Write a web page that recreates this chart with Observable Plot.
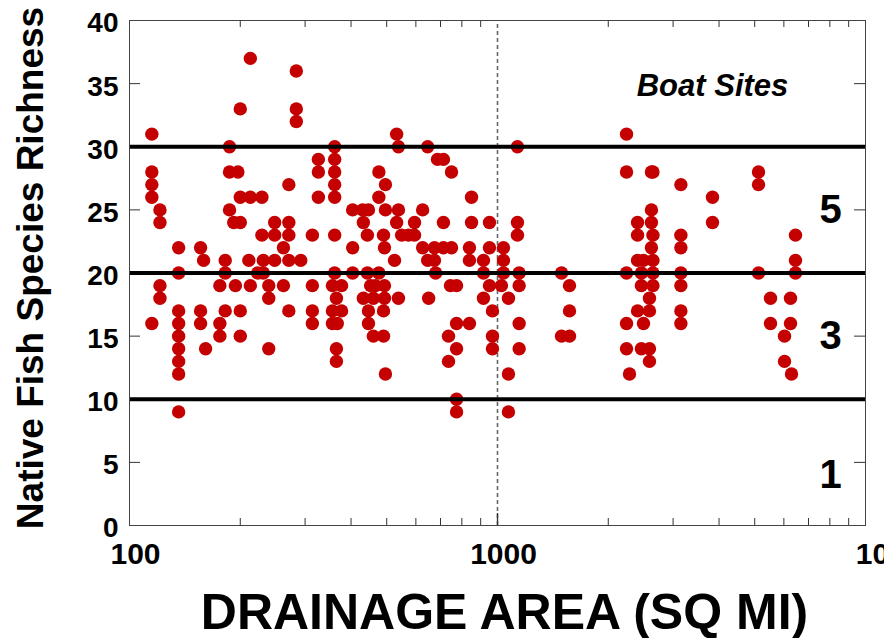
<!DOCTYPE html>
<html><head><meta charset="utf-8">
<script src="https://cdn.jsdelivr.net/npm/d3@7"></script>
<script src="https://cdn.jsdelivr.net/npm/@observablehq/plot@0.6"></script>
<style>html,body{margin:0;padding:0;background:#fff;overflow:hidden}</style>
</head><body><div id="chart"></div>
<script>
// Drainage area (sq mi) of each column of sites, and the richness values at that area
const columnArea = [115,121,136,156,159,161,176,182,187,192,194,197,200,211,213,223,229,231,239,248,262,271,284,292,314,326,356,361,365,367,377,404,430,432,443,446,452,460,466,476,490,493,496,525,532,538,549,573,595,626,646,650,674,679,687,713,736,745,750,774,839,850,916,951,969,1025,1038,1071,1133,1145,1493,1569,2242,2284,2402,2460,2493,2588,2620,2645,3150,3839,5120,5519,6025,6255,6294,6453];
const columnRichness = [
  [31,28,27,26,16],[25,24,19,18],[22,20,17,16,15,14,13,12,9],[22,17,16],[21],[14],[19,16,15],[21,20,17],[30,28,25],[24],[19],[28],
  [33,26,24,17,15],[21],[37,26,19],[20],[26,23],[21,20],[19,18,14],[24,23,21],[22,19],[27,24,23,21,17],[36,33,32],[21],
  [23,19,17,16],[29,28,26],[19,17,16],[30,29,28,27,26,23,20],[18,14,13],[16],[19,17],[25,22,20],[25],[24,18],[23,20],[25,17,16],
  [19],[18,15],[19],[28,26,20],[23,17,15],[22,19,18],[27,25,12],[21],[31,24],[30,25,18],[23],[23],[24,23],[25,22],[30,21],[18],
  [22,21],[20],[29],[29,24,22],[15,13],[19],[28,22],[19,16,14,10,9],[22,21,16],[26,24],[21,20,18],[24,22,19],[17,15,14],[19],
  [22,21,20],[18,12,9],[30,24,23],[20,19,16,14],[20,15],[19,17,15],[31,28,20,16,14],[12],[24,23,21,17],[20,19,14],[21,16],
  [18,17,14,13],[28,25,24,22],[28,23,21,20,19],[27,23,22,20,19,17,16],[26,24],[28,27,20],[18,16],[15,13],[18,16],[12],[23,21,20]
];
const yTickValues = [0,5,10,15,20,25,30,35,40];
const xMinorTicks = [200,300,400,500,600,700,800,900,2000,3000,4000,5000,6000,7000,8000,9000];
const xMajorTicks = [1000];
const xTickLabels = [100, 1000];
const xEdgeLabel = [10000];
const classLines = [10, 20, 30];
const classLabels = ["5", "3", "1"];
const classLabelY = [25, 15, 4];

const sites = columnArea.flatMap((a, i) => columnRichness[i].map(r => ({area: a, richness: r})));
const classes = classLabels.map((t, i) => ({label: t, y: classLabelY[i]}));

const font = "'Liberation Sans', Arial, Helvetica, sans-serif";
const W = 884, H = 638, mL = 129, mR = 19, mT = 20, mB = 113;
const pxPerDecade = (W - mL - mR) / 2;
const pxPerUnit = (H - mT - mB) / 40;
const yTickF = Math.pow(10, 11 / pxPerDecade);
const xTickU = 7 / pxPerUnit, xMajU = 12 / pxPerUnit;

const chart = Plot.plot({
  width: W, height: H,
  marginLeft: mL, marginRight: mR, marginTop: mT, marginBottom: mB,
  style: {fontFamily: font, background: "white", overflow: "hidden"},
  x: {type: "log", domain: [100, 10000], axis: null},
  y: {domain: [0, 40], axis: null},
  marks: [
    Plot.ruleX(xMajorTicks, {y1: 0, y2: 40, stroke: "#666", strokeWidth: 1.6, strokeDasharray: "4,3"}),
    Plot.ruleX(xMinorTicks, {y1: 0, y2: xTickU, stroke: "#333"}),
    Plot.ruleX(xMinorTicks, {y1: 40 - xTickU, y2: 40, stroke: "#333"}),
    Plot.ruleX(xMajorTicks, {y1: 0, y2: xMajU, stroke: "#333", strokeWidth: 1.3}),
    Plot.ruleY(yTickValues, {x1: 100, x2: 100 * yTickF, stroke: "#333"}),
    Plot.ruleY(yTickValues, {x1: 10000 / yTickF, x2: 10000, stroke: "#333"}),
    Plot.dot(sites, {x: "area", y: "richness", r: 6.7, fill: "#c40000", stroke: "none"}),
    Plot.ruleY(classLines, {x1: 100, x2: 10000, stroke: "black", strokeWidth: 4}),
    Plot.frame({stroke: "#444", strokeWidth: 1}),
    Plot.text(yTickValues, {x: 100, y: d => d, text: d => String(d), textAnchor: "end", lineAnchor: "middle", dx: -11, dy: 3, fontSize: 28, fontWeight: "bold", fill: "black"}),
    Plot.text(xTickLabels, {x: d => d, y: 0, text: d => String(d), lineAnchor: "middle", dx: 6, dy: 29, fontSize: 30, fontWeight: "bold", fill: "black"}),
    Plot.text(xEdgeLabel, {x: d => d, y: 0, text: d => String(d), lineAnchor: "middle", dx: 32, dy: 29, fontSize: 30, fontWeight: "bold", fill: "black"}),
    Plot.text(classes, {x: 10000, y: "y", text: "label", lineAnchor: "middle", dx: -35, fontSize: 40, fontWeight: "bold", fill: "black"}),
    Plot.text(["Boat Sites"], {frameAnchor: "top-right", textAnchor: "middle", lineAnchor: "middle", dx: -153, dy: 66, fontSize: 31, fontWeight: "bold", fontStyle: "italic", fill: "black"}),
    Plot.text(["Native Fish Species Richness"], {frameAnchor: "left", textAnchor: "middle", lineAnchor: "middle", rotate: -90, dx: -98, dy: -5, fontSize: 37, fontWeight: "bold", fill: "black"}),
    Plot.text(["DRAINAGE AREA (SQ MI)"], {frameAnchor: "bottom", textAnchor: "middle", lineAnchor: "middle", dx: 7, dy: 87, fontSize: 50, fontWeight: "bold", fill: "black"})
  ]
});
document.getElementById("chart").appendChild(chart);
</script>
</body></html>
